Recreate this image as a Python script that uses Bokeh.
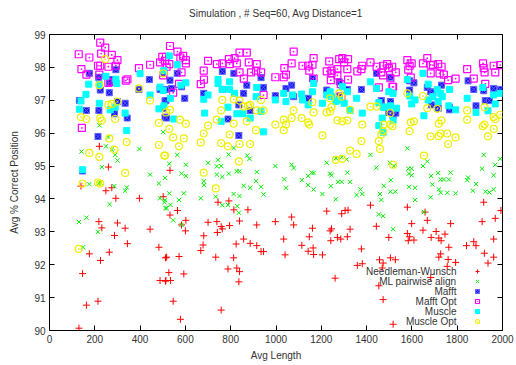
from bokeh.plotting import figure
from bokeh.models import LinearAxis, FixedTicker, Legend, LegendItem, Range1d, Label, CustomLabelingPolicy
from bokeh.embed import file_html
from bokeh.resources import INLINE

FONT = "Liberation Sans"

x_ticks = [0, 200, 400, 600, 800, 1000, 1200, 1400, 1600, 1800, 2000]
y_ticks = [90, 91, 92, 93, 94, 95, 96, 97, 98, 99]

labels = ["Needleman-Wunsch", "ML pairwise align", "Mafft", "Mafft Opt", "Muscle", "Muscle Opt"]

nw_x = [139, 220, 260, 249, 275, 293, 218, 231, 300, 334, 287, 344, 176, 264, 225, 146, 163, 214, 130, 397, 444, 483, 512, 488, 512, 502,
        532, 565, 532, 602, 583, 600, 517, 572, 527, 593, 514, 534, 546, 578, 700, 739, 758, 763, 741, 795, 839, 744, 792, 814, 876, 915, 681, 678, 668, 734, 813, 824, 857, 886, 915, 934, 945, 788, 827, 839, 836, 758, 997,
        1224, 1290, 1305, 1318, 1069, 1078, 1034, 1040, 1114, 1147, 1161, 1142, 1164, 1166, 1205, 1239, 1245, 1242, 1271, 1286, 1315, 1327, 1261, 1359, 1381, 1377, 1417, 1443, 1498, 1457, 1473, 1505, 1527, 1469, 1454, 1473, 1517,
        1580, 1599, 1580, 1590, 1584, 1609, 1649, 1668, 1658, 1685, 1707, 1719, 1729, 1746, 1771, 1763, 1727, 1719, 1760, 1756, 1793, 1683, 1841, 1873, 1883, 1910, 1917, 1961, 1968, 1993, 1920, 1936, 1961]
nw_y = [94.39, 95.6, 94.97, 94.25, 94.34, 94.02, 93.31, 93.12, 93.27, 93.11, 92.89, 92.64, 92.33, 92.38, 92.13, 91.73, 90.77, 90.89, 90.07, 94.02, 93.08, 92.53, 92.21, 91.52, 91.50, 94.07,
        94.87, 93.65, 93.51, 93.35, 93.21, 93.03, 92.23, 92.25, 91.76, 91.72, 91.52, 91.52, 90.89, 90.34, 93.29, 93.31, 93.16, 93.09, 92.98, 93.19, 93.33, 93.9, 93.94, 93.67, 93.67, 93.21, 92.88, 92.6, 92.43, 92.23, 92.21, 92.63, 92.78, 92.65, 92.58, 92.4, 92.4, 91.87, 91.9, 91.79, 91.48, 90.62, 93.31,
        93.63, 93.55, 93.65, 93.66, 93.45, 93.21, 92.78, 92.3, 92.59, 92.85, 93.11, 92.41, 92.51, 92.31, 92.30, 93.03, 93.09, 92.73, 92.83, 92.78, 92.85, 93.08, 91.59, 91.98, 92.03, 92.48, 93.81, 93.17, 92.83, 92.15, 92.05, 92.21, 92.15, 91.90, 91.36, 90.94, 90.19,
        93.75, 93.25, 92.95, 92.85, 92.73, 92.75, 93.05, 93.35, 93.6, 92.83, 93.01, 92.81, 92.73, 92.93, 93.25, 92.53, 92.33, 92.23, 92.16, 91.95, 92.07, 91.61, 92.58, 92.70, 92.58, 93.31, 93.9, 92.78, 93.41, 93.65, 92.35, 92.05, 92.23]

ml_x = [141, 221, 260, 249, 275, 290, 300, 397, 231, 176, 217, 224, 286, 341, 334, 265, 130, 163, 214, 148, 444, 483, 488, 507, 512, 502,
        564, 529, 602, 583, 602, 510, 529, 593, 510, 534, 572, 517, 546, 583, 700, 744, 739, 758, 739, 763, 681, 682, 791, 813, 873, 883, 792, 827, 839, 915, 857, 886, 912, 934, 945, 668, 734, 813, 839, 763, 788, 829, 836, 997,
        1069, 1078, 1037, 1044, 1114, 1142, 1157, 1166, 1142, 1166, 1205, 1224, 1239, 1245, 1242, 1264, 1274, 1290, 1264, 1290, 1312, 1315, 1327, 1356, 1373, 1381, 1417, 1443, 1476, 1459, 1465, 1505, 1527, 1454, 1473, 1503, 1520, 1517,
        1580, 1584, 1599, 1587, 1599, 1507, 1587, 1614, 1614, 1649, 1668, 1685, 1690, 1716, 1727, 1741, 1763, 1771, 1719, 1727, 1756, 1683, 1793, 1844, 1848, 1883, 1869, 1917, 1910, 1925, 1942, 1961, 1961, 1968, 1990, 1653]
ml_y = [95.44, 96.24, 95.88, 95.6, 95.5, 95.34, 95.17, 95.52, 94.97, 94.45, 94.47, 94.5, 94.39, 94.35, 94.25, 93.84, 93.30, 93.43, 93.0, 92.53, 94.74, 94.47, 94.02, 93.9, 93.72, 96.03,
        95.34, 95.07, 95.04, 94.77, 94.7, 94.64, 94.17, 94.17, 93.97, 93.82, 93.97, 93.72, 93.35, 93.21, 95.1, 95.19, 94.99, 95.0, 94.74, 94.67, 94.54, 94.42, 95.35, 95.55, 95.32, 95.22, 94.77, 94.84, 94.84, 94.82, 94.4, 94.34, 94.54, 94.37, 94.14, 94.02, 94.07, 94.15, 94.09, 93.81, 93.82, 93.78, 93.58, 95.0,
        95.04, 94.94, 94.6, 94.34, 94.57, 94.70, 94.8, 94.79, 94.42, 94.29, 94.15, 95.1, 94.77, 94.72, 94.39, 93.99, 94.52, 94.52, 95.24, 95.27, 95.2, 94.8, 94.52, 94.12, 94.29, 94.15, 95.34, 94.95, 94.4, 94.15, 93.97, 94.22, 94.22, 93.53, 93.48, 95.1, 95.0, 93.08,
        95.54, 94.92, 94.92, 94.77, 94.72, 94.57, 94.37, 94.34, 93.97, 95.0, 95.14, 94.70, 94.44, 94.79, 94.59, 94.59, 94.59, 94.8, 94.29, 94.19, 94.19, 94.05, 94.17, 94.57, 94.65, 94.45, 94.25, 95.34, 94.92, 94.22, 94.2, 94.29, 94.72, 95.04, 95.22, 93.6]

mafft_x = [176, 293, 217, 275, 265, 224, 264, 441, 395, 132, 163, 218, 287, 334, 343, 214, 146, 300, 505, 488, 512, 510, 502, 510,
           564, 539, 532, 514, 583, 517, 597, 681, 763, 814, 763, 857, 871, 934, 945, 997, 836, 886, 788, 836,
           1069, 1078, 1044, 1161, 1142, 1224, 1235, 1279, 1279, 1315, 1377, 1444, 1465, 1505, 1498, 1517, 1505,
           1590, 1609, 1590, 1529, 1668, 1683, 1693, 1731, 1687, 1716, 1766, 1766, 1848, 1883, 1873, 1917, 1924, 1942, 1961, 1990]
mafft_y = [97.82, 97.93, 97.7, 97.63, 97.53, 97.31, 97.23, 97.63, 97.33, 96.99, 96.69, 96.69, 96.59, 96.91, 96.46, 95.90, 94.85, 96.96, 97.82, 97.33, 97.33, 96.98, 96.76, 96.49,
           97.82, 97.36, 97.61, 96.99, 97.41, 96.46, 97.06, 97.21, 97.88, 97.82, 97.33, 97.21, 97.46, 97.69, 97.39, 97.14, 96.86, 96.69, 96.43, 95.93,
           97.46, 97.11, 97.36, 97.66, 97.06, 97.31, 97.19, 97.56, 97.13, 97.33, 97.33, 97.82, 96.99, 96.96, 96.63, 96.53, 97.7,
           97.59, 97.53, 97.31, 96.61, 97.39, 97.26, 97.23, 97.46, 96.86, 96.76, 96.79, 96.71, 97.59, 96.83, 97.33, 97.29, 96.99, 96.99, 97.36, 97.33]

mafftopt_x = [224, 246, 129, 176, 228, 275, 300, 214, 224, 260, 293, 141, 163, 220, 260, 275, 337, 344, 395, 444, 143, 488, 498, 510, 502,
              532, 565, 590, 602, 602, 578, 514, 529, 517, 583, 572, 546, 700, 739, 763, 792, 817, 795, 827, 839, 871, 681, 880, 915, 839, 858, 890, 912, 934, 682, 668, 945, 997,
              1078, 1069, 1166, 1161, 1117, 1142, 1147, 1037, 1044, 1235, 1279, 1293, 1318, 1301, 1224, 1245, 1245, 1271, 1271, 1315, 1359, 1377, 1381, 1417, 1166, 1242, 1286, 1318, 1444, 1473, 1491, 1498, 1513, 1465, 1473, 1505, 1454, 1517, 1289, 1034,
              1580, 1590, 1599, 1584, 1529, 1649, 1668, 1683, 1693, 1716, 1683, 1722, 1741, 1760, 1793, 1731, 1595, 1514, 1844, 1873, 1914, 1917, 1921, 1961, 1968, 1990, 1924]
mafftopt_y = [98.75, 98.6, 98.4, 98.3, 98.42, 98.38, 98.22, 98.05, 98.05, 98.02, 98.05, 97.95, 97.78, 97.78, 97.53, 97.56, 97.6, 97.64, 97.98, 98.08, 96.16, 98.15, 98.32, 98.2, 97.76,
              98.65, 98.48, 98.35, 98.22, 98.12, 98.3, 98.32, 98.1, 98.02, 97.85, 97.5, 97.23, 98.2, 98.1, 98.12, 98.25, 98.28, 98.1, 98.12, 98.45, 98.45, 97.9, 98.15, 98.1, 97.85, 97.66, 97.85, 97.9, 97.85, 97.63, 97.49, 97.16, 97.7,
              98.48, 98.12, 98.28, 98.08, 98.05, 98.05, 97.9, 97.98, 97.78, 98.18, 98.25, 98.28, 98.25, 98.15, 97.88, 97.9, 97.82, 97.95, 97.76, 97.95, 97.88, 97.95, 98.05, 98.15, 97.66, 97.61, 97.49, 97.63, 98.02, 98.05, 98.1, 97.98, 98.02, 97.85, 97.76, 97.67, 97.39, 97.41, 97.11, 97.7,
              98.22, 98.05, 98.12, 97.93, 97.85, 98.12, 98.28, 98.08, 98.07, 98.1, 97.82, 97.82, 97.78, 97.61, 97.66, 98.02, 97.69, 97.41, 97.95, 97.66, 98.12, 97.98, 97.85, 98.05, 97.85, 98.07, 97.5]

muscle_x = [249, 293, 297, 173, 220, 161, 139, 132, 220, 290, 268, 334, 341, 146, 400, 444, 483, 488, 502,
            529, 564, 505, 602, 580, 534, 549, 505, 681, 685, 700, 744, 744, 763, 795, 795, 817, 788, 827, 854, 758, 886, 915, 912, 934, 945, 997,
            1034, 1044, 1073, 1113, 1117, 1142, 1161, 1166, 1205, 1224, 1239, 1245, 1264, 1279, 1293, 1315, 1301, 1327, 1356, 1381, 1417, 1444, 1454, 1473, 1483, 1505, 1498, 1454, 1473, 1469,
            1580, 1517, 1517, 1532, 1590, 1614, 1599, 1649, 1672, 1672, 1693, 1712, 1727, 1734, 1716, 1766, 1763, 1793, 1653, 1844, 1883, 1913, 1936, 1961, 1968, 1990]
muscle_y = [97.73, 97.64, 97.51, 97.49, 97.48, 97.18, 96.98, 96.73, 96.91, 96.79, 96.71, 96.61, 96.08, 94.89, 97.81, 97.16, 96.74, 97.4, 97.3,
            98.35, 98.08, 97.9, 97.53, 97.46, 97.06, 96.43, 96.83, 97.03, 96.61, 97.16, 97.63, 97.51, 97.33, 97.56, 97.33, 97.21, 96.79, 96.59, 96.59, 96.36, 96.46, 97.39, 97.11, 96.66, 96.04, 97.01,
            97.21, 96.96, 97.16, 97.19, 97.01, 96.86, 97.26, 97.51, 96.91, 97.16, 97.26, 97.11, 96.96, 97.01, 97.41, 97.26, 96.91, 96.69, 97.06, 96.61, 97.56, 97.36, 96.93, 96.79, 96.79, 96.83, 97.26, 96.23, 96.03, 96.46,
            97.63, 97.21, 96.39, 96.76, 97.13, 97.01, 96.89, 97.82, 97.49, 97.01, 97.11, 97.33, 97.21, 97.11, 96.96, 97.33, 96.83, 96.71, 96.53, 97.06, 96.63, 97.39, 96.68, 97.16, 96.89, 97.21]

muscleopt_x = [246, 220, 260, 275, 300, 139, 163, 224, 231, 290, 264, 341, 176, 220, 287, 334, 146, 214, 224, 129, 395, 444, 483, 483, 507, 502,
               514, 532, 529, 576, 602, 546, 593, 572, 510, 700, 681, 668, 739, 758, 758, 788, 795, 839, 813, 763, 813, 839, 857, 876, 886, 915, 945, 934, 871, 912, 886, 836, 681, 734, 997,
               1034, 1044, 1034, 1069, 1113, 1142, 1147, 1078, 1161, 1166, 1205, 1224, 1239, 1245, 1239, 1279, 1290, 1271, 1293, 1315, 1327, 1381, 1377, 1327, 1356, 1264, 1293, 1417, 1444, 1454, 1459, 1473, 1465, 1476, 1505, 1505, 1517,
               1514, 1580, 1595, 1609, 1590, 1649, 1668, 1712, 1653, 1683, 1719, 1731, 1719, 1727, 1756, 1793, 1760, 1844, 1844, 1921, 1913, 1921, 1936, 1961, 1961, 1968, 1990]
muscleopt_y = [98.25, 97.46, 96.86, 96.89, 96.96, 96.49, 96.43, 96.46, 96.38, 96.43, 95.84, 95.73, 95.4, 95.28, 95.5, 94.79, 94.47, 94.5, 94.47, 92.48, 97.36, 96.99, 96.31, 95.64, 95.32, 97.82,
               96.63, 96.71, 96.13, 96.41, 96.29, 95.87, 95.84, 95.6, 95.32, 96.23, 95.99, 95.72, 96.41, 96.69, 95.7, 95.6, 95.96, 95.67, 96.29, 97.01, 97.03, 96.99, 96.81, 96.83, 96.86, 96.69, 96.69, 97.01, 96.36, 96.09, 95.67, 95.14, 94.8, 94.32, 96.26,
               96.41, 96.26, 96.09, 96.46, 96.46, 96.33, 96.26, 96.69, 96.94, 96.63, 95.93, 96.63, 96.66, 96.79, 97.06, 97.21, 97.11, 96.39, 96.36, 96.39, 96.71, 96.26, 95.76, 95.47, 95.37, 95.19, 95.22, 96.81, 96.81, 95.76, 95.52, 96.06, 95.96, 96.26, 96.26, 96.61, 95.04,
               96.21, 97.21, 96.33, 96.36, 96.06, 97.13, 96.76, 96.74, 95.32, 95.9, 96.29, 96.39, 95.91, 95.99, 95.99, 95.87, 95.67, 96.69, 96.41, 96.79, 96.21, 96.26, 95.9, 96.13, 96.49, 96.43, 96.56]

p = figure(width=516, height=365, output_backend="svg", toolbar_location=None,
           x_range=Range1d(0, 2000), y_range=Range1d(90, 99),
           min_border_left=49, min_border_right=13, min_border_top=28, min_border_bottom=35,
           title="Simulation , # Seq=60, Avg Distance=1")
p.title.align = "center"
p.title.text_font = FONT
p.title.text_font_size = "10px"
p.title.text_font_style = "normal"
p.title.text_color = "#333333"
p.xgrid.visible = False
p.ygrid.visible = False
p.outline_line_color = "black"
p.outline_line_width = 1
p.background_fill_color = "white"
p.border_fill_color = "white"

def style_axis(ax, show_labels=True):
    ax.major_tick_in = 5
    ax.major_tick_out = 0
    ax.minor_tick_in = 0
    ax.minor_tick_out = 0
    ax.axis_line_color = None
    ax.major_tick_line_color = "black"
    ax.major_label_text_font = FONT
    ax.major_label_text_font_size = "10px"
    ax.major_label_text_color = "#333333"
    ax.axis_label_text_font = FONT
    ax.axis_label_text_font_size = "10px"
    ax.axis_label_text_font_style = "normal"
    ax.axis_label_text_color = "#333333"
    if not show_labels:
        ax.major_label_policy = CustomLabelingPolicy(code="return new Set()")
        ax.major_label_standoff = 0

p.xaxis.ticker = FixedTicker(ticks=x_ticks)
p.yaxis.ticker = FixedTicker(ticks=y_ticks)
p.xaxis.axis_label = "Avg Length"
p.yaxis.axis_label = "Avg % Correct Position"
p.xaxis.major_label_standoff = 4
p.yaxis.major_label_standoff = 4
p.xaxis.axis_label_standoff = 4
p.yaxis.axis_label_standoff = 11
style_axis(p.xaxis[0])
style_axis(p.yaxis[0])

top = LinearAxis(ticker=FixedTicker(ticks=x_ticks))
right = LinearAxis(ticker=FixedTicker(ticks=y_ticks))
style_axis(top, False)
style_axis(right, False)
p.add_layout(top, "above")
p.add_layout(right, "right")

r1 = p.scatter(nw_x, nw_y, marker="cross", size=7, line_color="#ff0000", line_width=1)
r2 = p.scatter(ml_x, ml_y, marker="x", size=6, line_color="#00ee00", line_width=1)
r3 = p.scatter(mafft_x, mafft_y, marker="square_x", size=6, fill_color="#1010ee", line_color="#6060ff", line_width=1)
r4 = p.scatter(mafftopt_x, mafftopt_y, marker="square_dot", size=7, fill_color=None, line_color="#ff00ff", line_width=1.2)
r5 = p.scatter(muscle_x, muscle_y, marker="square", size=6, fill_color="#00ffff", line_color="#00ffff")
r6 = p.scatter(muscleopt_x, muscleopt_y, marker="circle_dot", size=7, fill_color=None, line_color="#eeee00", line_width=1.2)
renderers = [r1, r2, r3, r4, r5, r6]

# legend: symbols only (gnuplot style: text on the left, symbol on the right)
legend = Legend(items=[LegendItem(label="", renderers=[r]) for r in renderers],
                location=(423, 4), border_line_color=None, background_fill_alpha=0,
                label_text_font=FONT, label_text_font_size="10px",
                glyph_width=10, glyph_height=10, label_height=10, label_width=0,
                label_standoff=0, spacing=0, padding=0, margin=0)
p.add_layout(legend, "center")

row_h = 10
for i, lab in enumerate(labels):
    p.add_layout(Label(x=407, y=59 - i * row_h, x_units="screen", y_units="screen", text=lab,
                       text_align="right", text_baseline="middle", text_font=FONT,
                       text_font_size="10px", text_color="#333333"))

open("out.html", "w").write(file_html(p, INLINE))
